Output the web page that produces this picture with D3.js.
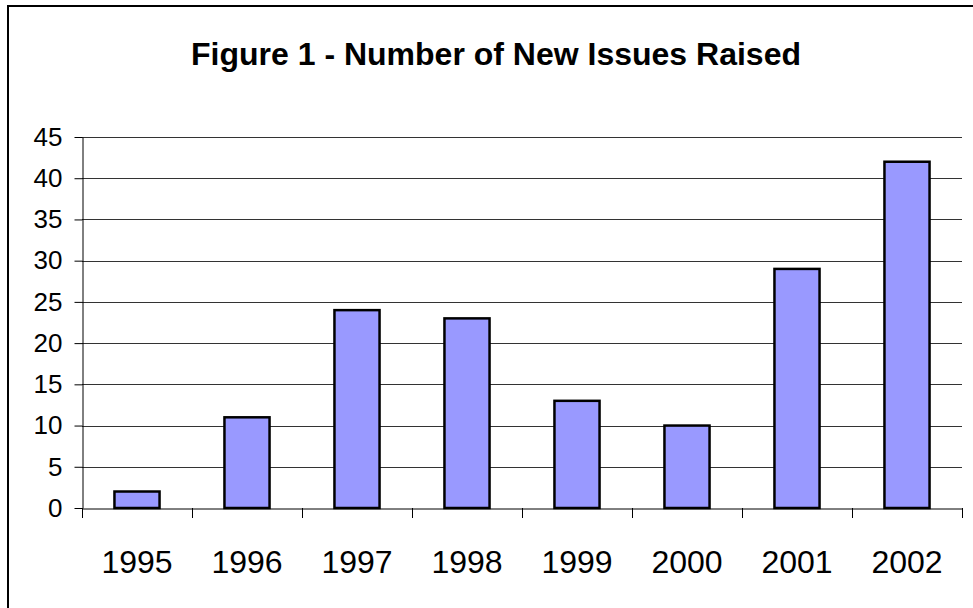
<!DOCTYPE html>
<html>
<head>
<meta charset="utf-8">
<script src="https://cdn.jsdelivr.net/npm/d3@7"></script>
<style>
  body { margin: 0; background: #fff; }
  text { font-family: "Liberation Sans", Arial, sans-serif; fill: #000; }
</style>
</head>
<body>
<svg width="973" height="608"></svg>
<script>
var years = ["1995", "1996", "1997", "1998", "1999", "2000", "2001", "2002"];
var issues = [2, 11, 24, 23, 13, 10, 29, 42];
var yTicks = [0, 5, 10, 15, 20, 25, 30, 35, 40, 45];
var title = "Figure 1 - Number of New Issues Raised";

var svg = d3.select("svg"),
width = +svg.attr("width"),
height = +svg.attr("height");

var plotLeft = 82, plotRight = 962, plotTop = 137, plotBottom = 508;

// outer frame, only left and top edges show in the picture
svg.append("rect")
  .attr("x", 8).attr("y", 6)
  .attr("width", width).attr("height", height)
  .attr("fill", "none").attr("stroke", "#000").attr("stroke-width", 2);

svg.append("text")
  .attr("x", 496).attr("y", 65)
  .attr("text-anchor", "middle")
  .attr("font-size", 32).attr("font-weight", "bold")
  .text(title);

var x = d3.scaleBand().domain(years).range([plotLeft, plotRight]).paddingInner(0.59).paddingOuter(0.295);
var xTicks = d3.scaleBand().domain(years).range([plotLeft, plotRight]);
var y = d3.scaleLinear().domain([0, 45]).range([plotBottom, plotTop]);

// gridlines
svg.append("g").selectAll("line").data(yTicks.slice(1)).enter().append("line")
  .attr("x1", plotLeft).attr("x2", plotRight)
  .attr("y1", function(d) { return Math.round(y(d)) + 0.5; })
  .attr("y2", function(d) { return Math.round(y(d)) + 0.5; })
  .attr("stroke", "#333").attr("stroke-width", 1);

// bars
svg.append("g").selectAll("rect").data(issues).enter().append("rect")
  .attr("x", function(d, i) { return x(years[i]); })
  .attr("y", function(d) { return y(d); })
  .attr("width", x.bandwidth())
  .attr("height", function(d) { return plotBottom - y(d); })
  .attr("fill", "#9999ff").attr("stroke", "#000").attr("stroke-width", 2.5);

// y axis
var yAxis = svg.append("g").attr("transform", "translate(" + (plotLeft + 0.5) + ",0)")
  .call(d3.axisLeft(y).tickValues(yTicks).tickSize(8).tickPadding(12).tickSizeOuter(0));
yAxis.select(".domain").attr("stroke", "#000");
yAxis.selectAll(".tick text").attr("font-size", 26).attr("font-family", "Liberation Sans, Arial, sans-serif");

// x axis
var xAxis = svg.append("g").attr("transform", "translate(0," + (plotBottom + 0.5) + ")")
  .call(d3.axisBottom(xTicks).tickSize(0).tickSizeOuter(0).tickFormat(""));
xAxis.select(".domain").attr("stroke", "#000");
xAxis.selectAll(".tick").remove();

svg.append("g").selectAll("line").data(years.concat([""])).enter().append("line")
  .attr("x1", function(d, i) { return Math.round(plotLeft + i * xTicks.step()) + 0.5; })
  .attr("x2", function(d, i) { return Math.round(plotLeft + i * xTicks.step()) + 0.5; })
  .attr("y1", plotBottom).attr("y2", plotBottom + 10)
  .attr("stroke", "#000");

svg.append("g").selectAll("text").data(years).enter().append("text")
  .attr("x", function(d) { return xTicks(d) + xTicks.bandwidth() / 2; })
  .attr("y", 573)
  .attr("text-anchor", "middle")
  .attr("font-size", 32)
  .text(function(d) { return d; });
</script>
</body>
</html>
